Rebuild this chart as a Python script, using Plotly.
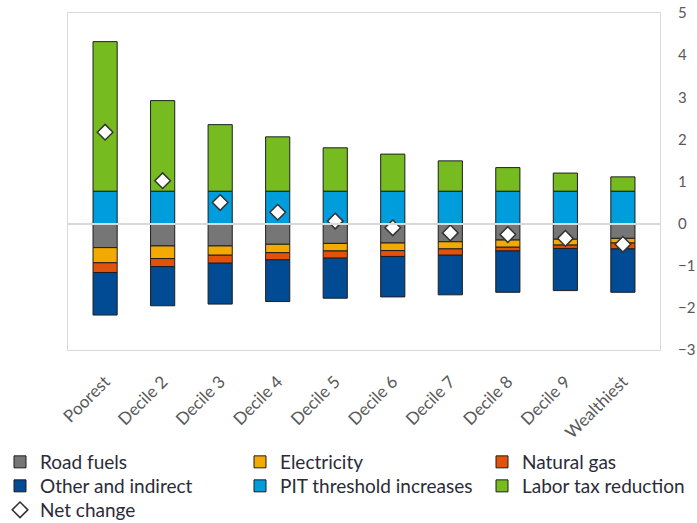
import plotly.graph_objects as go

categories = ["Poorest", "Decile 2", "Decile 3", "Decile 4", "Decile 5",
              "Decile 6", "Decile 7", "Decile 8", "Decile 9", "Wealthiest"]
road_fuels = [-0.57, -0.53, -0.53, -0.49, -0.47, -0.46, -0.43, -0.39, -0.37, -0.35]
electricity = [-0.36, -0.30, -0.22, -0.20, -0.18, -0.18, -0.17, -0.17, -0.14, -0.11]
natural_gas = [-0.23, -0.19, -0.19, -0.17, -0.17, -0.14, -0.15, -0.09, -0.08, -0.14]
other_indirect = [-1.01, -0.93, -0.97, -0.99, -0.95, -0.96, -0.94, -0.98, -1.00, -1.03]
pit_threshold = [0.77, 0.77, 0.77, 0.77, 0.77, 0.77, 0.77, 0.77, 0.77, 0.77]
labor_tax = [3.55, 2.15, 1.58, 1.29, 1.03, 0.88, 0.72, 0.56, 0.43, 0.34]
net_change = [2.17, 1.02, 0.50, 0.27, 0.06, -0.10, -0.22, -0.26, -0.35, -0.49]
y_ticks = [-3, -2, -1, 0, 1, 2, 3, 4, 5]

FONT = "Lato"
OUTLINE = "#1e1e1e"
W, H = 697, 523

# legend slot for each series: (legend id, left x px, row centre y px)
legend_slots = {
    "Road fuels": ("legend", 0, 462),
    "Electricity": ("legend2", 240, 462),
    "Natural gas": ("legend3", 482, 462),
    "Other and indirect": ("legend4", 0, 486),
    "PIT threshold increases": ("legend5", 240, 486),
    "Labor tax reduction": ("legend6", 482, 486),
    "Net change": ("legend7", 0, 510),
}

fig = go.Figure()
bar_series = [
    ("Road fuels", road_fuels, "#767676"),
    ("Electricity", electricity, "#f2a900"),
    ("Natural gas", natural_gas, "#e2520c"),
    ("Other and indirect", other_indirect, "#004b93"),
    ("PIT threshold increases", pit_threshold, "#009ddc"),
    ("Labor tax reduction", labor_tax, "#76bc21"),
]
for name, vals, color in bar_series:
    fig.add_trace(go.Bar(
        x=categories, y=vals, name=name, legend=legend_slots[name][0],
        marker=dict(color=color, line=dict(color=OUTLINE, width=1)),
    ))

fig.add_trace(go.Scatter(
    x=categories, y=net_change, name="Net change", mode="markers",
    legend=legend_slots["Net change"][0],
    marker=dict(symbol="diamond", size=12, color="white",
                line=dict(color="#333333", width=1.5)),
))

legends = {}
for name, (lid, lx, ly) in legend_slots.items():
    legends[lid] = dict(
        orientation="v", xref="container", yref="container",
        xanchor="left", yanchor="middle", x=lx / W, y=1 - ly / H,
        font=dict(family=FONT, size=19, color="#2b2b38"),
        bgcolor="rgba(0,0,0,0)", borderwidth=0,
        itemclick=False, itemdoubleclick=False,
    )

fig.update_layout(
    width=W, height=H,
    barmode="relative", bargap=0.58,
    plot_bgcolor="white", paper_bgcolor="white",
    margin=dict(l=68, r=37, t=13, b=173, autoexpand=False),
    font=dict(family=FONT, color="#595959"),
    showlegend=True,
    **legends,
    xaxis=dict(
        tickangle=-45, tickfont=dict(size=17, color="#595959", family=FONT),
        showline=True, mirror=True, linecolor="#d9d9d9", linewidth=1,
        showgrid=False, ticks="", ticklabelstandoff=14,
    ),
    yaxis=dict(
        side="right", range=[-3, 5], tickvals=y_ticks,
        tickfont=dict(size=15, color="#595959", family=FONT),
        showline=True, mirror=True, linecolor="#d9d9d9", linewidth=1,
        showgrid=False, zeroline=True, zerolinecolor="#d9d9d9", zerolinewidth=2,
        ticks="", ticklabelstandoff=14, layer="above traces",
    ),
)

try:
    fig.update_yaxes(zerolinelayer="above traces")
except (ValueError, TypeError):
    pass

fig.write_html("out.html")
